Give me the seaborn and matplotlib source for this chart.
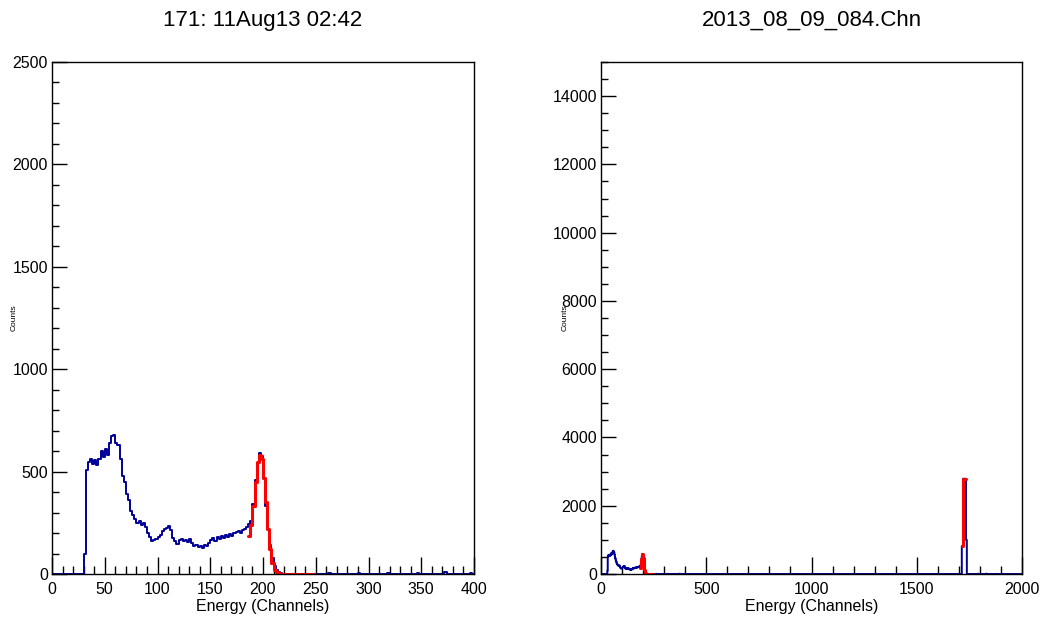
import numpy as np
import pandas as pd
import seaborn as sns
import matplotlib.pyplot as plt
from matplotlib.ticker import MultipleLocator

sns.set_style("ticks")
plt.rcParams['font.family'] = ['Liberation Sans', 'DejaVu Sans']
plt.rcParams['text.color'] = 'black'
plt.rcParams['axes.labelcolor'] = 'black'

# spectrum, 2-channel bins starting at channel 30
bin_width = 2
low_start = 30
low_counts = [100, 510, 545, 560, 535, 555, 530, 560, 600, 570,
              610, 580, 640, 675, 680, 640, 630, 560, 480, 450,
              390, 360, 310, 290, 270, 250, 260, 240, 250, 230,
              200, 180, 160, 165, 170, 180, 190, 210, 220, 225,
              235, 215, 175, 160, 145, 165, 170, 160, 165, 155,
              170, 150, 135, 140, 130, 135, 125, 140, 135, 150,
              165, 175, 160, 180, 170, 185, 175, 190, 180, 195,
              185, 200, 205, 210, 200, 215, 220, 230, 245, 260,
              340, 460, 540, 590, 575, 470, 330, 220, 140, 80,
              40, 20, 8, 4, 2]

# sparse tail (channel, counts)
tail_channels = [262, 290, 318, 346, 372, 396, 1790, 1830, 1880]
tail_counts = [5, 3, 6, 4, 8, 5, 8, 12, 6]

# high energy peak, 2-channel bins starting at 1714
high_start = 1714
high_counts = [820, 820, 820, 2790, 2790, 2790, 2790, 2790, 2790, 2790, 1000, 1000]

# fitted ranges (red)
fit_low_start = 186
fit_low_counts = [185, 240, 330, 450, 545, 580, 560, 470, 350, 220,
                  120, 55, 20, 8, 3, 0, 0, 0, 0, 0,
                  0, 0, 0, 0, 0, 0, 0, 0, 0, 0, 0]
fit_high_start = 1714
fit_high_counts = [820, 820, 820, 2790, 2790, 2790, 2790, 2790, 2790, 2790]

blue = "#000099"
red = "#ff0000"


def centers(start, counts):
    return start + bin_width * np.arange(len(counts)) + bin_width / 2


spec = pd.DataFrame({
    "channel": np.concatenate([centers(low_start, low_counts),
                               np.array(tail_channels) + 1,
                               centers(high_start, high_counts)]),
    "counts": np.concatenate([low_counts, tail_counts, high_counts]),
})
fit_lo = pd.DataFrame({"channel": centers(fit_low_start, fit_low_counts),
                       "counts": fit_low_counts})
fit_hi = pd.DataFrame({"channel": centers(fit_high_start, fit_high_counts),
                       "counts": fit_high_counts})

fig = plt.figure(figsize=(10.46, 6.24), dpi=100)
ax1 = fig.add_axes([52 / 1046, 50 / 624, 422 / 1046, 512 / 624])
ax2 = fig.add_axes([601 / 1046, 50 / 624, 421 / 1046, 512 / 624])

panels = [
    (ax1, "171: 11Aug13 02:42", 400, 2500, 50, 10, 500, 100, -0.082),
    (ax2, "2013_08_09_084.Chn", 2000, 15000, 500, 100, 2000, 500, -0.077),
]

for ax, title, xmax, ymax, xmaj, xmin, ymaj, ymin, lab_x in panels:
    sns.histplot(data=spec, x="channel", weights="counts", binwidth=bin_width,
                 binrange=(0, 2000), element="step", fill=False,
                 color=blue, linewidth=1.4, ax=ax)
    sns.histplot(data=fit_lo, x="channel", weights="counts", binwidth=bin_width,
                 binrange=(fit_low_start, fit_low_start + bin_width * len(fit_low_counts)),
                 element="step", fill=False, color=red, linewidth=2.2, ax=ax)
    if xmax > 400:
        sns.histplot(data=fit_hi, x="channel", weights="counts", binwidth=bin_width,
                     binrange=(fit_high_start, fit_high_start + bin_width * len(fit_high_counts)),
                     element="step", fill=False, color=red, linewidth=2.2, ax=ax)
    ax.set_xlim(0, xmax)
    ax.set_ylim(0, ymax)
    ax.xaxis.set_major_locator(MultipleLocator(xmaj))
    ax.xaxis.set_minor_locator(MultipleLocator(xmin))
    ax.yaxis.set_major_locator(MultipleLocator(ymaj))
    ax.yaxis.set_minor_locator(MultipleLocator(ymin))
    ax.tick_params(which="both", direction="in", top=False, right=False,
                   labelsize=11.5, colors="black")
    ax.tick_params(axis="x", which="major", length=12, width=1, pad=6)
    ax.tick_params(axis="x", which="minor", length=6, width=1)
    ax.tick_params(axis="y", which="major", length=11, width=1, pad=3)
    ax.tick_params(axis="y", which="minor", length=5, width=1)
    for s in ax.spines.values():
        s.set_visible(True)
        s.set_color("black")
        s.set_linewidth(1)
    ax.set_xlabel("Energy (Channels)", fontsize=11.5, labelpad=1)
    ax.set_ylabel("Counts", fontsize=6)
    ax.yaxis.set_label_coords(lab_x, 0.5)
    ax.set_title(title, fontsize=16, pad=26, color="black")

fig.savefig("out.png", dpi=100)
